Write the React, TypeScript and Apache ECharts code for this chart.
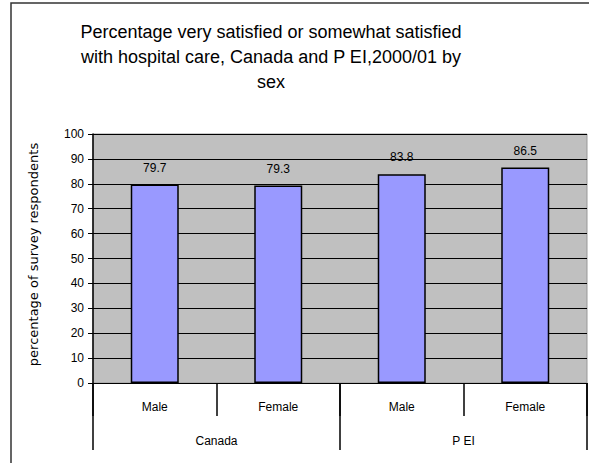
import React, { useEffect, useRef } from "react";
import * as echarts from "echarts";

const sexCategories = ["Male", "Female", "Male", "Female"];
const regionCategories = ["Canada", "P EI"];
const satisfiedValues = [79.7, 79.3, 83.8, 86.5];
const titleLines = [
  "Percentage very satisfied or somewhat satisfied",
  "with hospital care, Canada and P EI,2000/01 by",
  "sex",
];
const yAxisTitle = "percentage of survey respondents";

const FONT = "'Liberation Sans', Arial, sans-serif";

export default function App() {
  const ref = useRef<HTMLDivElement>(null);
  useEffect(() => {
    document.body.style.margin = "0";
    const chart = echarts.init(ref.current!, null, { renderer: "svg" });
    chart.setOption({
      animation: false,
      backgroundColor: "#ffffff",
      textStyle: { fontFamily: FONT, color: "#000" },
      title: {
        text: titleLines.join("\n"),
        left: 266,
        top: 14,
        textAlign: "center",
        textStyle: {
          fontFamily: FONT,
          fontSize: 18,
          fontWeight: "normal",
          color: "#000",
          lineHeight: 25,
        },
      },
      graphic: [
        {
          type: "rect",
          shape: { x: 11, y: 3, width: 620, height: 520 },
          style: { fill: "none", stroke: "#333", lineWidth: 1.5 },
          silent: true,
          z: 100,
        },
      ],
      grid: {
        left: 93,
        top: 134,
        right: 2,
        bottom: 80,
        show: true,
        backgroundColor: "#C0C0C0",
        borderColor: "#999",
        borderWidth: 1,
      },
      xAxis: [
        {
          type: "category",
          data: sexCategories,
          position: "bottom",
          axisLine: { show: true, lineStyle: { color: "#000", width: 1 } },
          axisTick: {
            show: true,
            interval: 0,
            length: 33,
            lineStyle: { color: "#000", width: 1.5 },
          },
          axisLabel: {
            interval: 0,
            margin: 18,
            fontSize: 12,
            color: "#000",
            fontFamily: FONT,
          },
        },
        {
          type: "category",
          data: regionCategories,
          position: "bottom",
          axisLine: { show: false },
          axisTick: {
            show: true,
            interval: 0,
            length: 67,
            lineStyle: { color: "#000", width: 1.5 },
          },
          axisLabel: {
            interval: 0,
            margin: 52,
            fontSize: 12,
            color: "#000",
            fontFamily: FONT,
          },
        },
      ],
      yAxis: {
        type: "value",
        min: 0,
        max: 100,
        interval: 10,
        name: yAxisTitle,
        nameLocation: "middle",
        nameGap: 53,
        nameRotate: 90,
        nameTextStyle: {
          fontSize: 13,
          color: "#000",
          fontFamily: "'DejaVu Sans', sans-serif",
          padding: [0, 0, 0, 8],
        },
        axisLine: { show: true, lineStyle: { color: "#000", width: 1.5 } },
        axisTick: { show: true, length: 5, lineStyle: { color: "#000" } },
        axisLabel: { fontSize: 12, color: "#000", margin: 9, fontFamily: FONT },
        splitLine: { show: true, lineStyle: { color: "#000", width: 1 } },
      },
      series: [
        {
          type: "bar",
          data: satisfiedValues,
          xAxisIndex: 0,
          barWidth: 48,
          itemStyle: { color: "#9999FF", borderColor: "#000", borderWidth: 1.5 },
          label: {
            show: true,
            position: "top",
            distance: 11,
            fontSize: 12,
            color: "#000",
            fontFamily: FONT,
          },
        },
      ],
    });
    return () => chart.dispose();
  }, []);
  return (
    <div
      ref={ref}
      style={{ width: 589, height: 463, position: "absolute", left: 0, top: 0 }}
    />
  );
}
